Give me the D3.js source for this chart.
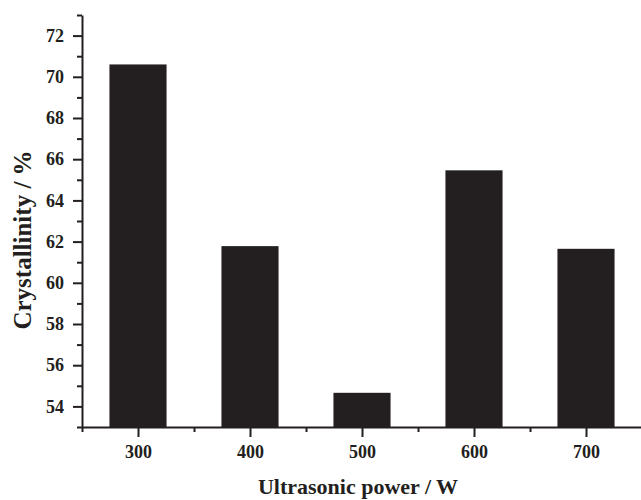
<!DOCTYPE html>
<html>
<head>
<meta charset="utf-8">
<script src="https://cdn.jsdelivr.net/npm/d3@7"></script>
<style>
  body { margin: 0; background: #fff; }
  text { font-family: "Liberation Serif", "Times New Roman", serif; font-weight: bold; fill: #231f20; }
</style>
</head>
<body>
<svg id="chart"></svg>
<script>
// data
var powers = [300, 400, 500, 600, 700];
var crystallinity = [70.6, 61.78, 54.66, 65.46, 61.65];
var yMajorTicks = [54, 56, 58, 60, 62, 64, 66, 68, 70, 72];
var yMinorTicks = [53, 55, 57, 59, 61, 63, 65, 67, 69, 71, 73];
var xMinorTicks = [250, 350, 450, 550, 650, 750];

var width = 641, height = 500;
var margin = {top: 15, right: -1, bottom: 73, left: 82};
var barW = 51, // in x units
    ink = "#231f20";

var svg = d3.select("#chart")
    .attr("width", width)
    .attr("height", height);

var xScale = d3.scaleLinear()
    .domain([250, 750])
    .range([margin.left, width - margin.right]);

var yScale = d3.scaleLinear()
    .domain([53, 73])
    .range([height - margin.bottom, margin.top]);

// bars
svg.append("g")
    .attr("class", "bars")
    .selectAll("rect")
    .data(powers)
    .enter()
    .append("rect")
    .attr("x", function (d) { return xScale(d - barW / 2); })
    .attr("width", function (d) { return xScale(d + barW / 2) - xScale(d - barW / 2); })
    .attr("y", function (d, i) { return yScale(crystallinity[i]); })
    .attr("height", function (d, i) { return yScale(53) - yScale(crystallinity[i]); })
    .attr("fill", ink);

// x axis
var xAxis = d3.axisBottom(xScale)
    .tickValues(powers)
    .tickSize(10)
    .tickSizeOuter(0)
    .tickPadding(8)
    .tickFormat(d3.format("d"));

svg.append("g")
    .attr("class", "x axis")
    .attr("transform", "translate(0," + yScale(53) + ")")
    .call(xAxis);

svg.append("g")
    .attr("class", "x minor")
    .attr("transform", "translate(0," + yScale(53) + ")")
    .call(d3.axisBottom(xScale).tickValues(xMinorTicks).tickSize(5).tickSizeOuter(0).tickFormat(""))
    .select(".domain").remove();

// y axis
var yAxis = d3.axisLeft(yScale)
    .tickValues(yMajorTicks)
    .tickSize(9)
    .tickSizeOuter(0)
    .tickPadding(9);

svg.append("g")
    .attr("class", "y axis")
    .attr("transform", "translate(" + margin.left + ",0)")
    .call(yAxis);

svg.append("g")
    .attr("class", "y minor")
    .attr("transform", "translate(" + margin.left + ",0)")
    .call(d3.axisLeft(yScale).tickValues(yMinorTicks).tickSize(5).tickSizeOuter(0).tickFormat(""))
    .select(".domain").remove();

svg.selectAll(".axis .domain, .axis line, .minor line")
    .attr("stroke", ink)
    .attr("stroke-width", 2);

svg.selectAll(".axis")
    .attr("font-family", "Liberation Serif, Times New Roman, serif")
    .attr("font-size", 18);

svg.selectAll(".axis text")
    .attr("fill", ink);

// axis titles
svg.append("text")
    .attr("x", 358)
    .attr("y", 494)
    .attr("text-anchor", "middle")
    .attr("font-size", 22)
    .text("Ultrasonic power / W");

svg.append("text")
    .attr("transform", "translate(31,240) rotate(-90)")
    .attr("text-anchor", "middle")
    .attr("font-size", 25)
    .text("Crystallinity / %");
</script>
</body>
</html>
